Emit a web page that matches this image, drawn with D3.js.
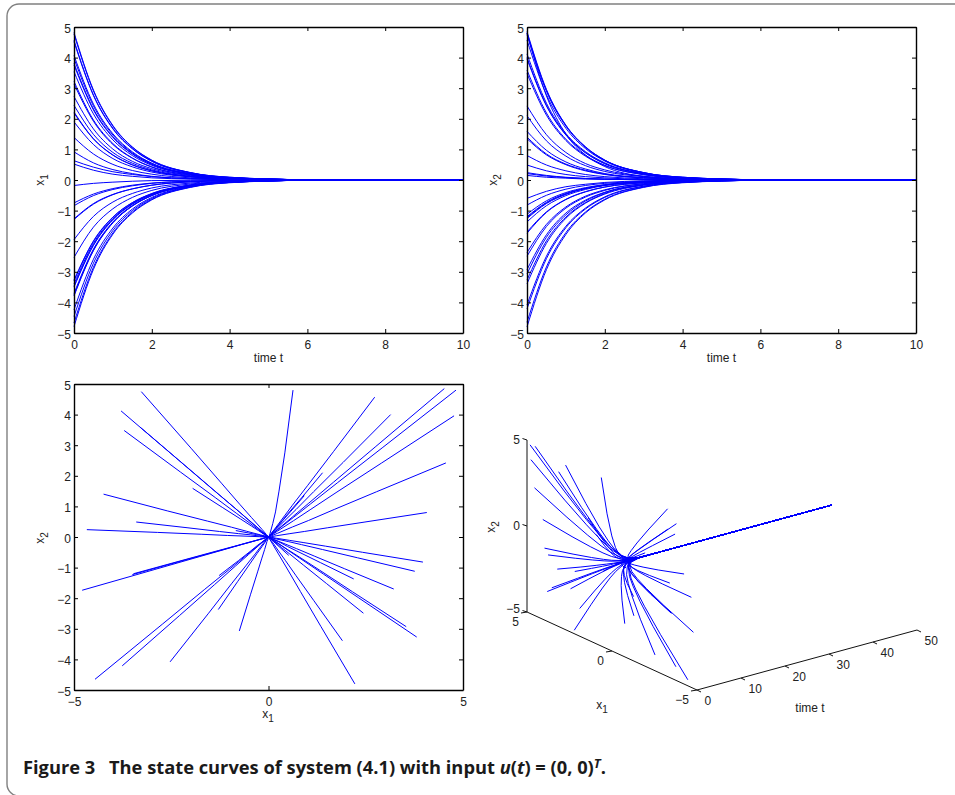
<!DOCTYPE html>
<html lang="en">

<head>
    <meta charset="utf-8">
    <title>State curves of system (4.1)</title>
    <script type="text/javascript" src="https://d3js.org/d3.v7.min.js"></script>
    <style type="text/css">
        body { margin: 0; background: #fff; }
        svg { display: block; }
        text { font-family: "Liberation Sans", Arial, sans-serif; font-size: 12px; fill: #222; }
        .tick text { font-family: "Liberation Sans", Arial, sans-serif; font-size: 12px; fill: #222; }
        .tick line { stroke: #000; stroke-width: 1; }
        .domain { stroke: #000; stroke-width: 1.4; }
        text.caption { font-family: "Open Sans", sans-serif; font-weight: 700; font-size: 18.3px; fill: #1a1a1a; }
    </style>
</head>

<body>
    <script type="text/javascript">
        //Sample times of every trajectory (the 3D panel runs to t = 50)
        const timeSamples = [0, 0.5, 1, 1.5, 2, 3, 4, 6, 10, 50];

        //x1 of each trajectory at those times
        const x1Rows = [
            [-3.27, -1.99, -1.21, -0.74, -0.44, -0.16, -0.06, -0.01, 0, 0],
            [-3.79, -2.31, -1.40, -0.85, -0.51, -0.19, -0.07, -0.01, 0, 0],
            [-3.30, -2.01, -1.22, -0.74, -0.45, -0.17, -0.06, -0.01, 0, 0],
            [-3.71, -2.26, -1.37, -0.83, -0.50, -0.19, -0.07, -0.01, 0, 0],
            [-1.95, -1.19, -0.72, -0.44, -0.26, -0.10, -0.04, 0, 0, 0],
            [-4.24, -2.59, -1.57, -0.95, -0.57, -0.21, -0.08, -0.01, 0, 0],
            [-3.40, -2.07, -1.26, -0.77, -0.46, -0.17, -0.06, -0.01, 0, 0],
            [-0.84, -0.51, -0.31, -0.19, -0.11, -0.04, -0.02, 0, 0, 0],
            [-4.67, -2.85, -1.73, -1.05, -0.63, -0.23, -0.08, -0.01, 0, 0],
            [-4.79, -2.92, -1.77, -1.08, -0.65, -0.24, -0.09, -0.01, 0, 0],
            [-3.50, -2.14, -1.30, -0.79, -0.47, -0.18, -0.06, -0.01, 0, 0],
            [-3.47, -2.12, -1.28, -0.78, -0.47, -0.17, -0.06, -0.01, 0, 0],
            [-1.27, -0.77, -0.47, -0.29, -0.17, -0.06, -0.02, 0, 0, 0],
            [-4.46, -2.72, -1.65, -1.00, -0.60, -0.22, -0.08, -0.01, 0, 0],
            [-3.76, -2.29, -1.39, -0.85, -0.51, -0.19, -0.07, -0.01, 0, 0],
            [-2.53, -1.54, -0.94, -0.57, -0.34, -0.13, -0.05, -0.01, 0, 0],
            [-1.29, -0.79, -0.48, -0.29, -0.17, -0.06, -0.02, 0, 0, 0],
            [-0.75, -0.46, -0.28, -0.17, -0.10, -0.04, -0.01, 0, 0, 0],
            [2.22, 1.35, 0.82, 0.50, 0.30, 0.11, 0.04, 0.01, 0, 0],
            [1.90, 1.16, 0.70, 0.43, 0.26, 0.10, 0.03, 0, 0, 0],
            [2.44, 1.49, 0.90, 0.55, 0.33, 0.12, 0.04, 0.01, 0, 0],
            [2.19, 1.34, 0.81, 0.49, 0.30, 0.11, 0.04, 0.01, 0, 0],
            [3.22, 1.96, 1.19, 0.72, 0.43, 0.16, 0.06, 0.01, 0, 0],
            [3.81, 2.32, 1.41, 0.86, 0.51, 0.19, 0.07, 0.01, 0, 0],
            [3.54, 2.16, 1.31, 0.80, 0.48, 0.18, 0.06, 0.01, 0, 0],
            [3.76, 2.29, 1.39, 0.85, 0.51, 0.19, 0.07, 0.01, 0, 0],
            [3.97, 2.42, 1.47, 0.89, 0.54, 0.20, 0.07, 0.01, 0, 0],
            [4.07, 2.48, 1.51, 0.92, 0.55, 0.20, 0.07, 0.01, 0, 0],
            [4.56, 2.78, 1.69, 1.03, 0.62, 0.23, 0.08, 0.01, 0, 0],
            [4.77, 2.91, 1.76, 1.07, 0.64, 0.24, 0.09, 0.01, 0, 0],
            [4.82, 2.94, 1.78, 1.08, 0.65, 0.24, 0.09, 0.01, 0, 0],
            [4.52, 2.76, 1.67, 1.02, 0.61, 0.23, 0.08, 0.01, 0, 0],
            [3.14, 1.92, 1.16, 0.71, 0.42, 0.16, 0.06, 0.01, 0, 0],
            [2.73, 1.67, 1.01, 0.61, 0.37, 0.14, 0.05, 0.01, 0, 0],
            [1.39, 0.85, 0.51, 0.31, 0.19, 0.07, 0.03, 0, 0, 0],
            [0.63, 0.42, 0.27, 0.18, 0.11, 0.04, 0.02, 0, 0, 0],
            [0.52, 0.32, 0.19, 0.12, 0.07, 0.03, 0.01, 0, 0, 0],
            [-0.18, -0.11, -0.07, -0.04, -0.02, -0.01, 0, 0, 0, 0],
            [0.92, 0.56, 0.34, 0.21, 0.12, 0.05, 0.02, 0, 0, 0]
        ];

        //x2 of the same trajectories, same order
        const x2Rows = [
            [4.75, 2.90, 1.76, 1.07, 0.64, 0.24, 0.09, 0.01, 0, 0],
            [4.12, 2.51, 1.52, 0.93, 0.56, 0.21, 0.07, 0.01, 0, 0],
            [3.59, 2.19, 1.33, 0.81, 0.48, 0.18, 0.06, 0.01, 0, 0],
            [3.48, 2.12, 1.29, 0.78, 0.47, 0.17, 0.06, 0.01, 0, 0],
            [1.59, 0.97, 0.59, 0.36, 0.21, 0.08, 0.03, 0, 0, 0],
            [1.40, 0.85, 0.52, 0.32, 0.19, 0.07, 0.03, 0, 0, 0],
            [0.49, 0.30, 0.18, 0.11, 0.07, 0.02, 0.01, 0, 0, 0],
            [0.21, 0.13, 0.08, 0.05, 0.03, 0.01, 0, 0, 0, 0],
            [0.24, 0.15, 0.09, 0.05, 0.03, 0.01, 0, 0, 0, 0],
            [-1.74, -1.06, -0.64, -0.39, -0.23, -0.09, -0.03, 0, 0, 0],
            [-1.23, -0.75, -0.46, -0.28, -0.17, -0.06, -0.02, 0, 0, 0],
            [-1.20, -0.73, -0.44, -0.27, -0.16, -0.06, -0.02, 0, 0, 0],
            [-1.26, -0.77, -0.47, -0.28, -0.17, -0.06, -0.02, 0, 0, 0],
            [-4.65, -2.84, -1.72, -1.05, -0.63, -0.23, -0.08, -0.01, 0, 0],
            [-4.21, -2.57, -1.56, -0.95, -0.57, -0.21, -0.08, -0.01, 0, 0],
            [-4.08, -2.49, -1.51, -0.92, -0.55, -0.20, -0.07, -0.01, 0, 0],
            [-2.37, -1.45, -0.88, -0.53, -0.32, -0.12, -0.04, -0.01, 0, 0],
            [-3.07, -1.87, -1.14, -0.69, -0.41, -0.15, -0.06, -0.01, 0, 0],
            [-4.80, -2.93, -1.78, -1.08, -0.65, -0.24, -0.09, -0.01, 0, 0],
            [-3.39, -2.07, -1.25, -0.76, -0.46, -0.17, -0.06, -0.01, 0, 0],
            [-2.49, -1.52, -0.92, -0.56, -0.34, -0.12, -0.04, -0.01, 0, 0],
            [-1.37, -0.84, -0.51, -0.31, -0.18, -0.07, -0.02, 0, 0, 0],
            [-1.70, -1.04, -0.63, -0.38, -0.23, -0.09, -0.03, 0, 0, 0],
            [-3.27, -1.99, -1.21, -0.74, -0.44, -0.16, -0.06, -0.01, 0, 0],
            [-2.93, -1.79, -1.08, -0.66, -0.40, -0.15, -0.05, -0.01, 0, 0],
            [-1.12, -0.68, -0.41, -0.25, -0.15, -0.06, -0.02, 0, 0, 0],
            [-0.82, -0.50, -0.30, -0.18, -0.11, -0.04, -0.01, 0, 0, 0],
            [0.80, 0.49, 0.30, 0.18, 0.11, 0.04, 0.01, 0, 0, 0],
            [2.42, 1.48, 0.90, 0.54, 0.33, 0.12, 0.04, 0.01, 0, 0],
            [3.96, 2.42, 1.47, 0.89, 0.53, 0.20, 0.07, 0.01, 0, 0],
            [4.80, 2.93, 1.78, 1.08, 0.65, 0.24, 0.09, 0.01, 0, 0],
            [4.85, 2.96, 1.79, 1.09, 0.65, 0.24, 0.09, 0.01, 0, 0],
            [4.00, 2.44, 1.48, 0.90, 0.54, 0.20, 0.07, 0.01, 0, 0],
            [4.57, 2.79, 1.69, 1.03, 0.62, 0.23, 0.08, 0.01, 0, 0],
            [2.10, 1.28, 0.78, 0.47, 0.28, 0.11, 0.04, 0.01, 0, 0],
            [4.80, 2.75, 1.50, 0.82, 0.44, 0.12, 0.04, 0.01, 0, 0],
            [-0.60, -0.37, -0.22, -0.14, -0.08, -0.03, -0.01, 0, 0, 0],
            [0.15, 0.09, 0.06, 0.03, 0.02, 0.01, 0, 0, 0, 0],
            [1.35, 0.82, 0.50, 0.30, 0.18, 0.07, 0.02, 0, 0, 0]
        ];

        //Tick values
        const timeTicks = [0, 2, 4, 6, 8, 10];
        const stateTicks = [-5, -4, -3, -2, -1, 0, 1, 2, 3, 4, 5];
        const phaseXTicks = [-5, 0, 5];
        const cubeStateTicks = [-5, 0, 5];
        const cubeTimeTicks = [0, 10, 20, 30, 40, 50];

        const svg = d3.select('body')
            .append('svg')
            .attr('width', 955)
            .attr('height', 795);

        //Grey rounded frame of the figure, its right side runs off the page
        svg.append('rect')
            .attr('x', 7)
            .attr('y', 4)
            .attr('width', 1000)
            .attr('height', 792)
            .attr('rx', 12)
            .attr('fill', 'none')
            .attr('stroke', '#808080')
            .attr('stroke-width', 1.4);

        //Text with a subscript, used for the x1 and x2 labels
        function subLabel(x, y, sub, rotate) {
            const label = svg.append('text')
                .attr('text-anchor', 'middle')
                .attr('transform', 'translate(' + x + ',' + y + ')' + (rotate ? ' rotate(-90)' : ''));
            label.append('tspan').text('x');
            label.append('tspan').attr('dy', 4).style('font-size', '10px').text(sub);
        }

        //Boxed 2D axes with inward ticks on all four sides
        function drawBox(xScale, yScale, xTicks, yTicks) {
            const [left, right] = xScale.range();
            const [bottom, top] = yScale.range();

            svg.append('g')
                .attr('transform', 'translate(0,' + bottom + ')')
                .call(d3.axisBottom(xScale).tickValues(xTicks).tickSizeInner(-4).tickSizeOuter(0).tickPadding(7));
            svg.append('g')
                .attr('transform', 'translate(0,' + top + ')')
                .call(d3.axisTop(xScale).tickValues(xTicks).tickSizeInner(-4).tickSizeOuter(0).tickFormat(''));
            svg.append('g')
                .attr('transform', 'translate(' + left + ',0)')
                .call(d3.axisLeft(yScale).tickValues(yTicks).tickSizeInner(-4).tickSizeOuter(0).tickPadding(3))
                .selectAll('text')
                .attr('dy', '0.42em');
            svg.append('g')
                .attr('transform', 'translate(' + right + ',0)')
                .call(d3.axisRight(yScale).tickValues(yTicks).tickSizeInner(-4).tickSizeOuter(0).tickFormat(''));
        }

        //One time plot (top row)
        function timePanel(left, rows, sub) {
            const xScale = d3.scaleLinear().domain([0, 10]).range([left, left + 389]);
            const yScale = d3.scaleLinear().domain([-5, 5]).range([333, 27]);

            const line = d3.line()
                .x(d => xScale(d.t))
                .y(d => yScale(d.v))
                .curve(d3.curveMonotoneX);

            svg.append('g')
                .selectAll('path')
                .data(rows)
                .enter()
                .append('path')
                .attr('d', row => line(timeSamples
                    .map((t, i) => ({ t: t, v: row[i] }))
                    .filter(d => d.t <= 10)))
                .attr('fill', 'none')
                .attr('stroke', '#0000ff')
                .attr('stroke-width', 1);

            drawBox(xScale, yScale, timeTicks, stateTicks);

            svg.append('text')
                .attr('x', left + 194.5)
                .attr('y', 362)
                .attr('text-anchor', 'middle')
                .text('time t');
            subLabel(left - 30, 180, sub, true);
        }

        timePanel(74, x1Rows, '1');
        timePanel(527, x2Rows, '2');

        //Phase plot (bottom left)
        const phaseX = d3.scaleLinear().domain([-5, 5]).range([74, 463]);
        const phaseY = d3.scaleLinear().domain([-5, 5]).range([690, 384]);

        const phaseLine = d3.line()
            .x(d => phaseX(d[0]))
            .y(d => phaseY(d[1]));

        svg.append('g')
            .selectAll('path')
            .data(x1Rows.map((row, r) => row.map((v, i) => [v, x2Rows[r][i]])))
            .enter()
            .append('path')
            .attr('d', phaseLine)
            .attr('fill', 'none')
            .attr('stroke', '#0000ff')
            .attr('stroke-width', 1);

        drawBox(phaseX, phaseY, phaseXTicks, stateTicks);
        subLabel(268, 718, '1', false);
        subLabel(44, 538, '2', true);

        //3D plot (bottom right): each data axis is a scale of its own,
        //their offsets add up on the page
        const cubeTX = d3.scaleLinear().domain([0, 50]).range([0, 220]);
        const cubeTY = d3.scaleLinear().domain([0, 50]).range([0, -60]);
        const cubeX1X = d3.scaleLinear().domain([-5, 5]).range([170, 0]);
        const cubeX1Y = d3.scaleLinear().domain([-5, 5]).range([78, 0]);
        const cubeX2Y = d3.scaleLinear().domain([-5, 5]).range([0, -172]);

        const cubeX = (t, x1) => 527 + cubeTX(t) + cubeX1X(x1);
        const cubeY = (t, x1, x2) => 612 + cubeTY(t) + cubeX1Y(x1) + cubeX2Y(x2);

        const cubeLine = d3.line()
            .x(d => cubeX(d.t, d.x1))
            .y(d => cubeY(d.t, d.x1, d.x2));

        svg.append('g')
            .selectAll('path')
            .data(x1Rows.map((row, r) => row.map((v, i) => ({ t: timeSamples[i], x1: v, x2: x2Rows[r][i] }))))
            .enter()
            .append('path')
            .attr('d', cubeLine)
            .attr('fill', 'none')
            .attr('stroke', '#0000ff')
            .attr('stroke-width', 1);

        //3D axes
        const cubeAxes = svg.append('g')
            .attr('stroke', '#111')
            .attr('stroke-width', 1);

        function cubeSegment(x1a, y1a, x2a, y2a) {
            cubeAxes.append('line')
                .attr('x1', x1a)
                .attr('y1', y1a)
                .attr('x2', x2a)
                .attr('y2', y2a);
        }

        cubeSegment(cubeX(0, 5), cubeY(0, 5, -5), cubeX(0, 5), cubeY(0, 5, 5));
        cubeSegment(cubeX(0, 5), cubeY(0, 5, -5), cubeX(0, -5), cubeY(0, -5, -5));
        cubeSegment(cubeX(0, -5), cubeY(0, -5, -5), cubeX(50, -5), cubeY(50, -5, -5));

        cubeStateTicks.forEach(v => {
            //x2 ticks and labels
            const x = cubeX(0, 5);
            const y = cubeY(0, 5, v);
            cubeSegment(x, y, x - 4.5, y - 1.5);
            svg.append('text')
                .attr('x', x - 7)
                .attr('y', y - (v === -5 ? 3 : 0))
                .attr('dy', '.35em')
                .attr('text-anchor', 'end')
                .text(d3.format('d')(v));

            //x1 ticks and labels
            const px = cubeX(0, v);
            const py = cubeY(0, v, -5);
            cubeSegment(px, py, px - 6, py + 1);
            svg.append('text')
                .attr('x', px - 8)
                .attr('y', py + 10)
                .attr('dy', '.35em')
                .attr('text-anchor', 'end')
                .text(d3.format('d')(v));
        });

        cubeTimeTicks.forEach(t => {
            const x = cubeX(t, -5);
            const y = cubeY(t, -5, -5);
            cubeSegment(x, y, x + 4, y + 2);
            svg.append('text')
                .attr('x', x + 7.5)
                .attr('y', y + 11)
                .attr('dy', '.35em')
                .text(t);
        });

        svg.append('text')
            .attr('x', 810)
            .attr('y', 712)
            .attr('text-anchor', 'middle')
            .text('time t');
        subLabel(602, 709, '1', false);
        subLabel(495, 527, '2', true);

        //Caption
        const caption = svg.append('text')
            .attr('class', 'caption')
            .attr('x', 23)
            .attr('y', 774);
        caption.append('tspan').text('Figure 3');
        caption.append('tspan').attr('x', 109).text('The state curves of system (4.1) with input ');
        caption.append('tspan').attr('font-style', 'italic').text('u');
        caption.append('tspan').text('(');
        caption.append('tspan').attr('font-style', 'italic').text('t');
        caption.append('tspan').text(') = (0, 0)');
        caption.append('tspan').attr('font-style', 'italic').attr('dy', -6).style('font-size', '13px').text('T');
        caption.append('tspan').attr('dy', 6).text('.');
    </script>
</body>

</html>
